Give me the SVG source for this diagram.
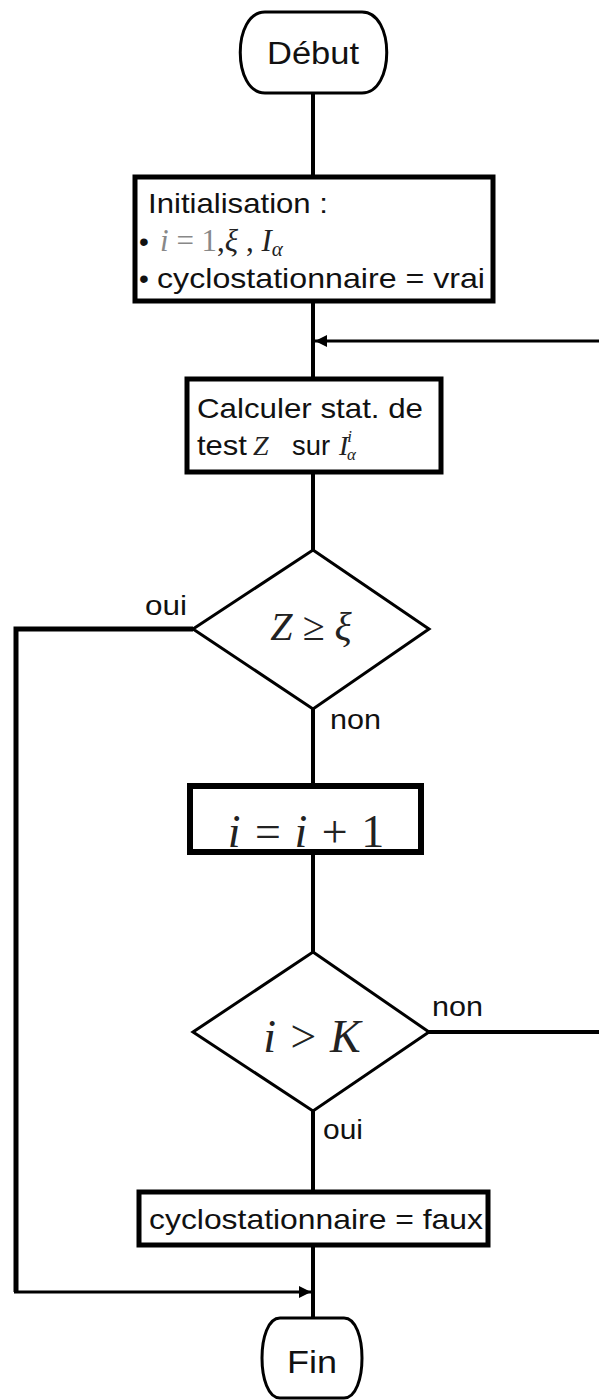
<svg xmlns="http://www.w3.org/2000/svg" width="599" height="1400" viewBox="0 0 599 1400">
<style>
.t{font-family:"Liberation Sans",Arial,sans-serif;font-size:28px;fill:#111}
.m{font-family:"Liberation Serif","Times New Roman",serif;font-style:italic;fill:#222}
.u{font-style:normal}
.box{fill:#fff;stroke:#000;stroke-width:5}
.dia{fill:#fff;stroke:#000;stroke-width:3}
.term{fill:#fff;stroke:#000;stroke-width:3}
.c{fill:none;stroke:#000;stroke-width:4}
.ca{fill:none;stroke:#000;stroke-width:3}
</style>
<defs>
<marker id="ah" viewBox="0 0 10 10" refX="10" refY="5" markerWidth="4.5" markerHeight="4" orient="auto" markerUnits="strokeWidth">
<path d="M0,0 L10,5 L0,10 Z" fill="#000"/>
</marker>
</defs>
<rect width="599" height="1400" fill="#fff"/>
<g id="connectors">
<line class="c" x1="313" y1="93" x2="313" y2="177"/>
<line class="c" x1="313" y1="301" x2="313" y2="379"/>
<line class="ca" x1="599" y1="341" x2="315" y2="341" marker-end="url(#ah)"/>
<line class="c" x1="313" y1="472" x2="313" y2="550"/>
<line class="c" x1="313" y1="709" x2="313" y2="786"/>
<line class="c" x1="313" y1="852" x2="313" y2="952"/>
<line class="c" x1="313" y1="1111" x2="313" y2="1192"/>
<line class="c" x1="313" y1="1245" x2="313" y2="1318"/>
<polyline class="c" points="193,629 16,629 16,1292" style="stroke-width:5"/>
<line class="ca" x1="14" y1="1292" x2="311" y2="1292" marker-end="url(#ah)"/>
<line class="c" x1="429" y1="1032" x2="599" y2="1032"/>
<text class="t" x="145" y="615" textLength="42" lengthAdjust="spacingAndGlyphs">oui</text>
<text class="t" x="330" y="729" textLength="51" lengthAdjust="spacingAndGlyphs">non</text>
<text class="t" x="432" y="1016" textLength="51" lengthAdjust="spacingAndGlyphs">non</text>
<text class="t" x="323" y="1139" textLength="40" lengthAdjust="spacingAndGlyphs">oui</text>
</g>
<g id="debut">
<path class="term" d="M265,12 H362 C395,12 395,93 362,93 H265 C232,93 232,12 265,12 Z"/>
<text class="t" x="313" y="64" text-anchor="middle" style="font-size:31px" textLength="92" lengthAdjust="spacingAndGlyphs">Début</text>
</g>
<g id="init">
<rect class="box" x="135" y="177" width="358" height="124"/>
<text class="t" x="148" y="213" textLength="180" lengthAdjust="spacingAndGlyphs">Initialisation :</text>
<text class="t" x="139" y="251">•</text>
<text class="m" x="160" y="251" style="font-size:31px"><tspan fill="#888">i</tspan><tspan class="u" fill="#888"> = 1</tspan><tspan class="u">,</tspan>ξ<tspan class="u"> , </tspan>I<tspan dy="5" style="font-size:21px">α</tspan></text>
<text class="t" x="139" y="288">•</text>
<text class="t" x="157" y="288" textLength="328" lengthAdjust="spacingAndGlyphs">cyclostationnaire = vrai</text>
</g>
<g id="calc">
<rect class="box" x="187" y="379" width="254" height="93"/>
<text class="t" x="197" y="418" textLength="226" lengthAdjust="spacingAndGlyphs">Calculer stat. de</text>
<text class="t" x="197" y="455" textLength="50" lengthAdjust="spacingAndGlyphs">test</text>
<text class="m" x="253" y="455" style="font-size:28px" fill="#666">Z</text>
<text class="t" x="292" y="455" textLength="38" lengthAdjust="spacingAndGlyphs">sur</text>
<text class="m" x="339" y="455" style="font-size:28px" fill="#777">I<tspan dx="-1" dy="-13" style="font-size:17px">i</tspan><tspan dx="-5" dy="18" style="font-size:17px">α</tspan></text>
</g>
<g id="test1">
<polygon class="dia" points="313,550 429,629 313,709 193,629"/>
<text class="m" x="311" y="640" text-anchor="middle" style="font-size:40px" fill="#333">Z ≥ ξ</text>
</g>
<g id="incr">
<rect class="box" x="190" y="786" width="231" height="66" style="stroke-width:6"/>
<text class="m" x="306" y="847" text-anchor="middle" style="font-size:46px" fill="#111">i = i + <tspan class="u">1</tspan></text>
</g>
<g id="test2">
<polygon class="dia" points="313,952 429,1032 313,1111 193,1032"/>
<text class="m" x="312" y="1052" text-anchor="middle" style="font-size:46px" fill="#222">i &gt; K</text>
</g>
<g id="faux">
<rect class="box" x="139" y="1192" width="349" height="53"/>
<text class="t" x="149" y="1229" textLength="334" lengthAdjust="spacingAndGlyphs">cyclostationnaire = faux</text>
</g>
<g id="fin">
<path class="term" d="M280,1318 H344 C368,1318 368,1398 344,1398 H280 C256,1398 256,1318 280,1318 Z"/>
<text class="t" x="312" y="1373" text-anchor="middle" style="font-size:32px" textLength="50" lengthAdjust="spacingAndGlyphs">Fin</text>
</g>
</svg>
